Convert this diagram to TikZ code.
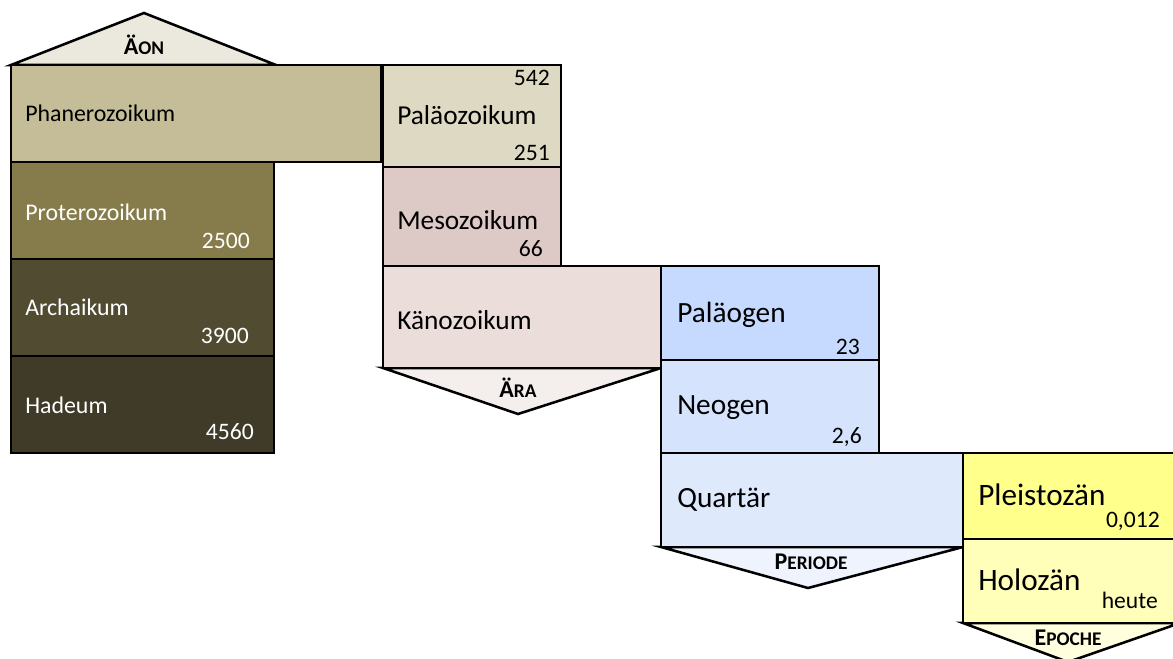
\documentclass[tikz,border=0pt]{standalone}
\usepackage{fontspec}
\setmainfont{Carlito}
\usetikzlibrary{positioning}

\definecolor{aeonbg}{HTML}{EBE9DD}
\definecolor{phanero}{HTML}{C4BD97}
\definecolor{protero}{HTML}{857B4B}
\definecolor{archai}{HTML}{514C31}
\definecolor{hade}{HTML}{403B28}
\definecolor{palaeo}{HTML}{DDD9C3}
\definecolor{meso}{HTML}{DDCAC6}
\definecolor{kaeno}{HTML}{EBDDDA}
\definecolor{eraarrow}{HTML}{F4EEED}
\definecolor{palaeogen}{HTML}{C6D9FE}
\definecolor{neogen}{HTML}{D5E3FD}
\definecolor{quartaer}{HTML}{DFE9FC}
\definecolor{periodarrow}{HTML}{EEF3FE}
\definecolor{pleisto}{HTML}{FFFF8B}
\definecolor{holo}{HTML}{FFFFBA}
\definecolor{epocharrow}{HTML}{FFFFDE}

\newcommand\headcaps[2]{\textbf{\fontsize{18}{20}\selectfont #1\fontsize{14.5}{17}\selectfont #2}}

\begin{document}
\begin{tikzpicture}[x=0.75pt,y=-0.75pt,
layer/.style={draw=black, line width=1.9pt, line join=miter},
eonname/.style={anchor=west, inner sep=0pt, font=\fontsize{17.9}{20}\selectfont},
eraname/.style={anchor=west, inner sep=0pt, font=\fontsize{20.5}{24}\selectfont},
periodname/.style={anchor=west, inner sep=0pt, font=\fontsize{22}{26}\selectfont},
epochname/.style={anchor=west, inner sep=0pt, font=\fontsize{23.4}{28}\selectfont},
age/.style={anchor=east, inner sep=0pt, font=\fontsize{17.7}{20}\selectfont},
head/.style={inner sep=0pt}
]
\useasboundingbox (0,0) rectangle (1173,659);

% rank arrows
\draw[layer, fill=aeonbg] (11,65) -- (144,13) -- (276,65) -- cycle;
\draw[layer, fill=eraarrow] (383,368) -- (518,414) -- (661,368) -- cycle;
\draw[layer, fill=periodarrow] (661,547) -- (808,588) -- (963,547) -- cycle;
\draw[layer, fill=epocharrow] (963,623) -- (1068,662) -- (1180,623) -- cycle;

% eons
\draw[layer, fill=phanero] (11,65) rectangle (381,162);
\draw[layer, fill=protero] (11,162) rectangle (274,259);
\draw[layer, fill=archai] (11,259) rectangle (274,356);
\draw[layer, fill=hade] (11,356) rectangle (274,453);

% eras
\draw[layer, fill=palaeo] (383,65) rectangle (561,167);
\draw[layer, fill=meso] (383,167) rectangle (561,266);
\draw[layer, fill=kaeno] (383,266) rectangle (661,368);

% periods
\draw[layer, fill=palaeogen] (661,266) rectangle (879,360);
\draw[layer, fill=neogen] (661,360) rectangle (879,453);
\draw[layer, fill=quartaer] (661,453) rectangle (963,547);

% epochs
\draw[layer, fill=pleisto] (963,453) rectangle (1180,539);
\draw[layer, fill=holo] (963,539) rectangle (1180,623);

% headings
\node[head] (aeon) at (144,45) {\headcaps{Ä}{ON}};
\node[head] (era) at (518,388) {\headcaps{Ä}{RA}};
\node[head] (period) at (811,562) {\headcaps{P}{ERIODE}};
\node[head] (epoch) at (1068,638) {\headcaps{E}{POCHE}};

% names
\node[eonname] (phanerozoikum) at (25,113) {Phanerozoikum};
\node[eonname, white] (proterozoikum) at (25,212) {Proterozoikum};
\node[eonname, white] (archaikum) at (25,307) {Archaikum};
\node[eonname, white] (hadeum) at (25,405) {Hadeum};
\node[eraname] (palaeozoikum) at (397,115) {Paläozoikum};
\node[eraname] (mesozoikum) at (397,220) {Mesozoikum};
\node[eraname] (kaenozoikum) at (397,320) {Känozoikum};
\node[periodname] (palaeogen) at (677,315) {Paläogen};
\node[periodname] (neogen) at (677,408) {Neogen};
\node[periodname] (quartaer) at (677,500) {Quartär};
\node[epochname] (pleistozaen) at (978,495) {Pleistozän};
\node[epochname] (holozaen) at (978,580) {Holozän};

% ages
\node[age, white] (age2500) at (250,241) {2500};
\node[age, white] (age3900) at (249,336) {3900};
\node[age, white] (age4560) at (254,432) {4560};
\node[age] (age542) at (550,78) {542};
\node[age] (age251) at (550,153) {251};
\node[age] (age66) at (543,249) {66};
\node[age] (age23) at (860,347) {23};
\node[age] (age26) at (862,437) {2,6};
\node[age] (age0012) at (1160,521) {0,012};
\node[age] (heute) at (1158,600) {heute};
\end{tikzpicture}
\end{document}
